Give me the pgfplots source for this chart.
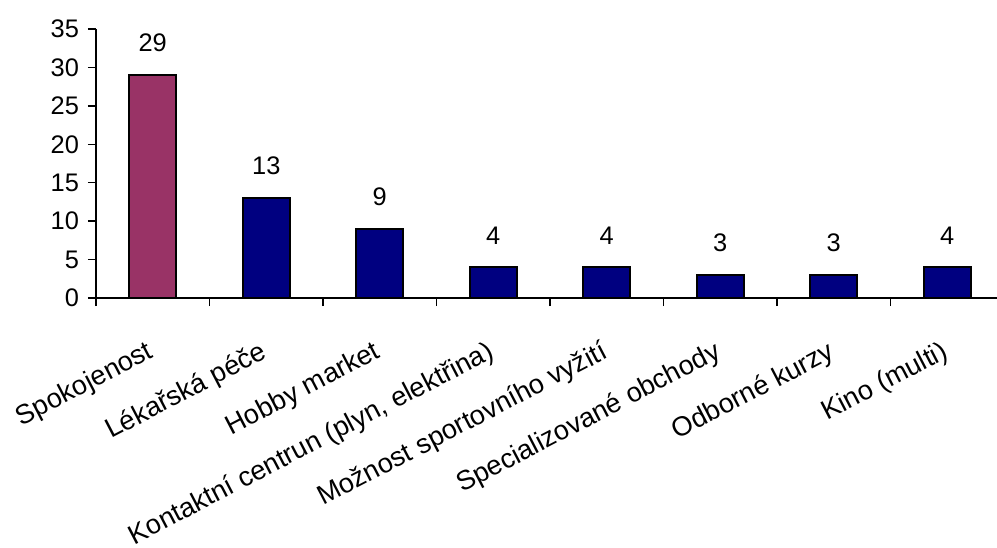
\documentclass[border=0pt]{standalone}
\usepackage{fontspec}
\setmainfont{Liberation Sans}
\usepackage{pgfplots}
\pgfplotsset{compat=1.18}
\definecolor{barred}{HTML}{993366}
\definecolor{barblue}{HTML}{000080}
\newcommand{\numfont}{\fontsize{12.7bp}{15bp}\selectfont}
\newcommand{\lblfont}{\fontsize{13.6bp}{16bp}\selectfont}
\begin{document}
\begin{tikzpicture}[x=1bp,y=1bp]
\begin{axis}[
  at={(0,0)}, anchor=south west,
  scale only axis, width=450.5bp, height=134.5bp,
  xmin=-0.5, xmax=7.438, ymin=0, ymax=35,
  axis x line*=bottom, axis y line*=left,
  axis line style={black, line width=0.75bp, -},
  tick align=outside, major tick length=4bp,
  tick style={black, line width=0.75bp},
  ytick={0,5,...,35},
  /pgf/number format/assume math mode=true,
  y tick label style={font=\numfont, xshift=-1bp},
  xtick={-0.5,0.5,...,6.5},
  xticklabels={,,,,,,,},
  extra x ticks={0,1,2,3,4,5,6,7},
  extra x tick labels={Spokojenost,Lékařská péče,Hobby market,{Kontaktní centrun (plyn, elektřina)},Možnost sportovního vyžití,Specializované obchody,Odborné kurzy,Kino (multi)},
  extra x tick style={major tick length=0pt, tick label style={xshift=-3.5bp, yshift=-20.5bp, rotate=27.5, anchor=north east, inner sep=0pt, font=\lblfont}},
  ybar, bar width=23.5bp, bar shift=0pt,
  nodes near coords,
  every node near coord/.append style={font=\numfont, inner sep=0pt, yshift=11bp, black},
]
\addplot[fill=barred, draw=black, line width=0.9bp] coordinates {(0,29)};
\addplot[fill=barblue, draw=black, line width=0.9bp] coordinates {(1,13) (2,9) (3,4) (4,4) (5,3) (6,3) (7,4)};
\end{axis}
\pgfresetboundingbox
\path[use as bounding box] (-48bp,-125bp) rectangle (450.5bp,149bp);
\end{tikzpicture}
\end{document}
